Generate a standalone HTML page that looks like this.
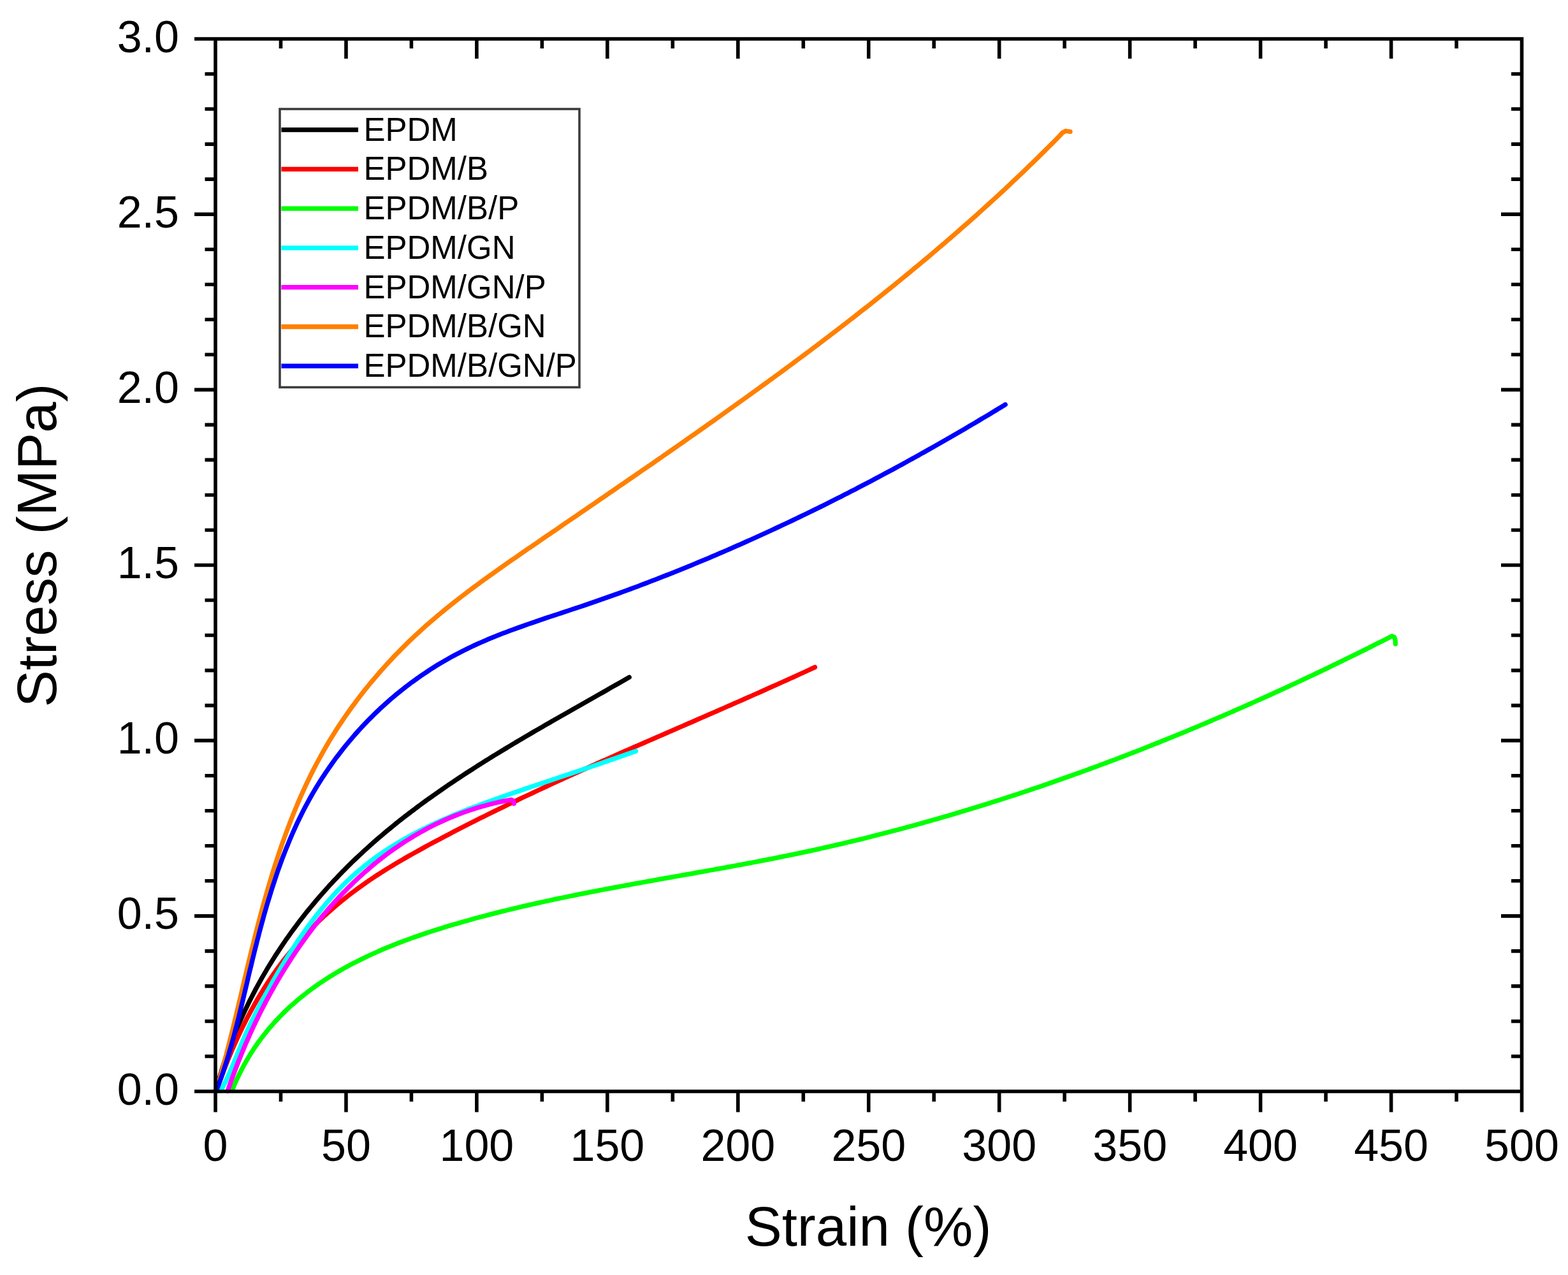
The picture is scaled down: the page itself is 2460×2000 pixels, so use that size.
<!DOCTYPE html>
<html><head><meta charset="utf-8"><title>Stress-Strain</title>
<style>html,body{margin:0;padding:0;background:#fff;}svg{display:block;}</style>
</head><body>
<svg width="2460" height="2000" viewBox="0 0 2460 2000">
<rect x="0" y="0" width="2460" height="2000" fill="#fff"/>
<g fill="none" stroke-width="7.3" stroke-linecap="round" stroke-linejoin="round">
<path d="M338.6,1711.1 L340.2,1705.1 L341.8,1699.1 L343.5,1693.1 L345.3,1687.2 L347.1,1681.3 L348.9,1675.4 L350.8,1669.5 L352.7,1663.6 L354.7,1657.8 L356.8,1652.0 L358.9,1646.2 L361.0,1640.5 L363.2,1634.8 L365.4,1629.1 L367.6,1623.4 L370.0,1617.7 L372.3,1612.1 L374.7,1606.5 L377.2,1600.9 L379.6,1595.4 L382.2,1589.8 L384.7,1584.3 L387.4,1578.9 L390.0,1573.4 L392.7,1568.0 L395.5,1562.6 L398.3,1557.2 L401.1,1551.8 L404.0,1546.5 L406.9,1541.2 L409.8,1535.9 L412.8,1530.7 L415.9,1525.5 L418.9,1520.3 L422.0,1515.1 L425.2,1510.0 L428.4,1504.9 L431.6,1499.8 L434.9,1494.7 L438.2,1489.7 L441.5,1484.7 L444.9,1479.7 L448.3,1474.7 L451.8,1469.8 L455.3,1464.9 L458.8,1460.0 L462.4,1455.2 L466.0,1450.3 L469.6,1445.5 L473.3,1440.8 L477.0,1436.0 L480.7,1431.3 L484.5,1426.6 L488.3,1422.0 L492.2,1417.3 L496.1,1412.7 L500.0,1408.2 L503.9,1403.6 L507.9,1399.1 L511.9,1394.6 L515.9,1390.1 L520.0,1385.7 L524.1,1381.3 L528.3,1376.9 L532.4,1372.6 L536.6,1368.2 L540.9,1363.9 L545.1,1359.7 L549.4,1355.4 L553.7,1351.2 L558.1,1347.0 L562.5,1342.9 L566.9,1338.8 L571.3,1334.7 L575.8,1330.6 L580.2,1326.6 L584.8,1322.6 L589.3,1318.6 L593.9,1314.6 L598.5,1310.7 L603.1,1306.8 L607.7,1302.9 L612.4,1299.1 L617.1,1295.2 L621.8,1291.4 L626.5,1287.7 L631.3,1283.9 L636.1,1280.2 L640.9,1276.5 L645.7,1272.8 L650.6,1269.2 L655.4,1265.5 L660.3,1261.9 L665.2,1258.3 L670.1,1254.7 L675.1,1251.2 L680.0,1247.7 L685.0,1244.2 L690.0,1240.7 L695.0,1237.2 L700.0,1233.8 L705.1,1230.3 L710.1,1226.9 L715.2,1223.5 L720.3,1220.1 L725.4,1216.8 L730.5,1213.4 L735.6,1210.1 L740.8,1206.8 L745.9,1203.5 L751.1,1200.2 L756.2,1197.0 L761.4,1193.7 L766.6,1190.5 L771.8,1187.2 L777.0,1184.0 L782.2,1180.8 L787.5,1177.6 L792.7,1174.5 L797.9,1171.3 L803.2,1168.2 L808.4,1165.0 L813.7,1161.9 L818.9,1158.8 L824.2,1155.7 L829.5,1152.6 L834.7,1149.5 L840.0,1146.4 L845.3,1143.4 L850.6,1140.3 L855.9,1137.2 L861.2,1134.2 L866.4,1131.2 L871.7,1128.1 L877.0,1125.1 L882.3,1122.1 L887.6,1119.1 L892.9,1116.1 L898.1,1113.1 L903.4,1110.1 L908.7,1107.1 L914.0,1104.1 L919.2,1101.1 L924.5,1098.1 L929.8,1095.1 L935.0,1092.1 L940.3,1089.1 L945.5,1086.2 L950.8,1083.2 L956.0,1080.2 L961.2,1077.2 L966.4,1074.3 L971.6,1071.3 L976.8,1068.3 L982.0,1065.3 L987.2,1062.4" stroke="#000000"/>
<path d="M339.5,1711.0 L341.5,1705.3 L343.5,1699.7 L345.6,1694.0 L347.6,1688.3 L349.8,1682.7 L351.9,1677.0 L354.1,1671.4 L356.4,1665.7 L358.6,1660.1 L361.0,1654.5 L363.3,1648.9 L365.7,1643.3 L368.2,1637.8 L370.7,1632.2 L373.2,1626.7 L375.8,1621.2 L378.4,1615.7 L381.1,1610.2 L383.8,1604.8 L386.5,1599.3 L389.3,1594.0 L392.2,1588.6 L395.1,1583.2 L398.0,1577.9 L401.0,1572.6 L404.0,1567.4 L407.1,1562.2 L410.2,1557.0 L413.4,1551.8 L416.7,1546.7 L419.9,1541.6 L423.3,1536.6 L426.6,1531.6 L430.1,1526.6 L433.6,1521.7 L437.1,1516.8 L440.7,1511.9 L444.3,1507.1 L448.0,1502.4 L451.8,1497.7 L455.6,1493.0 L459.4,1488.4 L463.3,1483.8 L467.2,1479.3 L471.2,1474.8 L475.3,1470.3 L479.4,1465.9 L483.5,1461.6 L487.7,1457.3 L491.9,1453.0 L496.2,1448.8 L500.5,1444.6 L504.8,1440.5 L509.2,1436.4 L513.7,1432.4 L518.2,1428.4 L522.7,1424.4 L527.3,1420.5 L531.9,1416.7 L536.5,1412.9 L541.2,1409.1 L545.9,1405.4 L550.7,1401.7 L555.5,1398.1 L560.3,1394.5 L565.2,1391.0 L570.1,1387.5 L575.0,1384.0 L580.0,1380.6 L585.0,1377.2 L590.0,1373.9 L595.1,1370.6 L600.2,1367.4 L605.3,1364.2 L610.4,1361.0 L615.6,1357.8 L620.8,1354.7 L626.0,1351.6 L631.2,1348.6 L636.5,1345.5 L641.7,1342.5 L647.0,1339.6 L652.3,1336.6 L657.6,1333.7 L662.9,1330.7 L668.2,1327.8 L673.6,1324.9 L678.9,1322.1 L684.2,1319.2 L689.6,1316.4 L695.0,1313.5 L700.3,1310.7 L705.7,1307.9 L711.1,1305.1 L716.5,1302.3 L721.8,1299.5 L727.2,1296.8 L732.6,1294.0 L738.0,1291.3 L743.5,1288.5 L748.9,1285.8 L754.3,1283.1 L759.7,1280.4 L765.1,1277.7 L770.6,1275.0 L776.0,1272.4 L781.4,1269.7 L786.9,1267.1 L792.3,1264.4 L797.8,1261.8 L803.2,1259.2 L808.7,1256.6 L814.2,1253.9 L819.6,1251.3 L825.1,1248.8 L830.6,1246.2 L836.1,1243.6 L841.5,1241.0 L847.0,1238.5 L852.5,1235.9 L858.0,1233.4 L863.5,1230.8 L869.0,1228.3 L874.5,1225.8 L880.0,1223.2 L885.5,1220.7 L891.0,1218.2 L896.5,1215.7 L902.1,1213.2 L907.6,1210.7 L913.1,1208.2 L918.6,1205.8 L924.1,1203.3 L929.7,1200.8 L935.2,1198.3 L940.7,1195.9 L946.3,1193.4 L951.8,1191.0 L957.3,1188.5 L962.9,1186.1 L968.4,1183.6 L973.9,1181.2 L979.5,1178.7 L985.0,1176.3 L990.6,1173.9 L996.1,1171.4 L1001.7,1169.0 L1007.2,1166.6 L1012.8,1164.2 L1018.3,1161.7 L1023.9,1159.3 L1029.4,1156.9 L1035.0,1154.5 L1040.5,1152.1 L1046.1,1149.7 L1051.6,1147.2 L1057.2,1144.8 L1062.7,1142.4 L1068.3,1140.0 L1073.8,1137.6 L1079.4,1135.2 L1084.9,1132.8 L1090.5,1130.3 L1096.0,1127.9 L1101.6,1125.5 L1107.1,1123.1 L1112.7,1120.7 L1118.2,1118.2 L1123.8,1115.8 L1129.3,1113.4 L1134.9,1111.0 L1140.4,1108.5 L1146.0,1106.1 L1151.5,1103.7 L1157.0,1101.2 L1162.6,1098.8 L1168.1,1096.4 L1173.7,1093.9 L1179.2,1091.5 L1184.7,1089.0 L1190.3,1086.6 L1195.8,1084.1 L1201.3,1081.6 L1206.8,1079.2 L1212.4,1076.7 L1217.9,1074.2 L1223.4,1071.7 L1228.9,1069.2 L1234.4,1066.8 L1239.9,1064.3 L1245.5,1061.8 L1251.0,1059.2 L1256.5,1056.7 L1262.0,1054.2 L1267.5,1051.7 L1273.0,1049.1 L1278.5,1046.6" stroke="#ff0000"/>
<path d="M363.9,1711.1 L366.3,1705.1 L368.9,1699.1 L371.5,1693.3 L374.2,1687.5 L377.0,1681.9 L379.9,1676.3 L382.8,1670.8 L385.8,1665.4 L388.9,1660.1 L392.1,1654.9 L395.3,1649.7 L398.7,1644.6 L402.1,1639.6 L405.5,1634.7 L409.1,1629.9 L412.7,1625.1 L416.4,1620.5 L420.1,1615.9 L423.9,1611.3 L427.8,1606.9 L431.7,1602.5 L435.7,1598.2 L439.8,1594.0 L443.9,1589.8 L448.1,1585.7 L452.3,1581.7 L456.6,1577.7 L461.0,1573.9 L465.4,1570.0 L469.9,1566.3 L474.4,1562.6 L479.0,1559.0 L483.6,1555.4 L488.3,1551.9 L493.0,1548.5 L497.8,1545.1 L502.6,1541.8 L507.5,1538.5 L512.4,1535.3 L517.3,1532.2 L522.3,1529.1 L527.4,1526.0 L532.5,1523.0 L537.6,1520.1 L542.7,1517.2 L547.9,1514.4 L553.2,1511.6 L558.5,1508.9 L563.8,1506.2 L569.1,1503.6 L574.5,1501.0 L579.9,1498.5 L585.3,1496.0 L590.8,1493.5 L596.3,1491.1 L601.8,1488.7 L607.3,1486.4 L612.9,1484.1 L618.5,1481.9 L624.1,1479.7 L629.8,1477.5 L635.4,1475.4 L641.1,1473.3 L646.8,1471.2 L652.5,1469.2 L658.3,1467.2 L664.0,1465.2 L669.8,1463.3 L675.6,1461.4 L681.4,1459.5 L687.2,1457.7 L693.0,1455.9 L698.8,1454.1 L704.6,1452.3 L710.5,1450.6 L716.3,1448.9 L722.2,1447.2 L728.0,1445.5 L733.9,1443.9 L739.7,1442.2 L745.6,1440.6 L751.5,1439.0 L757.4,1437.5 L763.2,1435.9 L769.1,1434.4 L775.0,1432.9 L780.9,1431.4 L786.7,1429.9 L792.6,1428.5 L798.5,1427.0 L804.4,1425.6 L810.3,1424.2 L816.2,1422.8 L822.1,1421.4 L828.0,1420.1 L833.9,1418.7 L839.8,1417.4 L845.7,1416.1 L851.6,1414.8 L857.5,1413.5 L863.4,1412.2 L869.3,1410.9 L875.2,1409.7 L881.1,1408.5 L887.0,1407.2 L892.9,1406.0 L898.8,1404.8 L904.8,1403.6 L910.7,1402.4 L916.6,1401.3 L922.5,1400.1 L928.4,1398.9 L934.3,1397.8 L940.3,1396.6 L946.2,1395.5 L952.1,1394.4 L958.0,1393.3 L964.0,1392.2 L969.9,1391.1 L975.8,1390.0 L981.7,1388.9 L987.7,1387.8 L993.6,1386.7 L999.5,1385.6 L1005.4,1384.6 L1011.4,1383.5 L1017.3,1382.4 L1023.2,1381.4 L1029.1,1380.3 L1035.1,1379.2 L1041.0,1378.2 L1046.9,1377.1 L1052.8,1376.1 L1058.8,1375.0 L1064.7,1374.0 L1070.6,1372.9 L1076.5,1371.9 L1082.5,1370.8 L1088.4,1369.8 L1094.3,1368.7 L1100.2,1367.7 L1106.2,1366.6 L1112.1,1365.5 L1118.0,1364.5 L1123.9,1363.4 L1129.8,1362.3 L1135.7,1361.3 L1141.7,1360.2 L1147.6,1359.1 L1153.5,1358.0 L1159.4,1356.9 L1165.3,1355.8 L1171.2,1354.7 L1177.1,1353.6 L1183.0,1352.5 L1188.9,1351.4 L1194.8,1350.2 L1200.7,1349.1 L1206.6,1347.9 L1212.5,1346.8 L1218.4,1345.6 L1224.3,1344.4 L1230.2,1343.2 L1236.1,1342.0 L1242.0,1340.8 L1247.9,1339.6 L1253.7,1338.4 L1259.6,1337.1 L1265.5,1335.9 L1271.4,1334.6 L1277.2,1333.4 L1283.1,1332.1 L1289.0,1330.8 L1294.8,1329.4 L1300.7,1328.1 L1306.6,1326.8 L1312.4,1325.4 L1318.3,1324.1 L1324.1,1322.7 L1330.0,1321.3 L1335.8,1319.9 L1341.7,1318.5 L1347.5,1317.1 L1353.4,1315.7 L1359.2,1314.2 L1365.0,1312.8 L1370.9,1311.3 L1376.7,1309.8 L1382.5,1308.3 L1388.4,1306.8 L1394.2,1305.3 L1400.0,1303.8 L1405.8,1302.3 L1411.6,1300.7 L1417.4,1299.2 L1423.3,1297.6 L1429.1,1296.0 L1434.9,1294.4 L1440.7,1292.8 L1446.5,1291.2 L1452.3,1289.6 L1458.1,1288.0 L1463.9,1286.3 L1469.6,1284.7 L1475.4,1283.0 L1481.2,1281.3 L1487.0,1279.7 L1492.8,1278.0 L1498.5,1276.3 L1504.3,1274.5 L1510.1,1272.8 L1515.8,1271.1 L1521.6,1269.3 L1527.4,1267.6 L1533.1,1265.8 L1538.9,1264.0 L1544.6,1262.2 L1550.4,1260.4 L1556.1,1258.6 L1561.9,1256.8 L1567.6,1255.0 L1573.3,1253.1 L1579.1,1251.3 L1584.8,1249.4 L1590.5,1247.5 L1596.3,1245.7 L1602.0,1243.8 L1607.7,1241.9 L1613.4,1240.0 L1619.1,1238.0 L1624.8,1236.1 L1630.6,1234.2 L1636.3,1232.2 L1642.0,1230.3 L1647.7,1228.3 L1653.4,1226.3 L1659.0,1224.3 L1664.7,1222.3 L1670.4,1220.3 L1676.1,1218.3 L1681.8,1216.3 L1687.5,1214.2 L1693.1,1212.2 L1698.8,1210.1 L1704.5,1208.1 L1710.1,1206.0 L1715.8,1203.9 L1721.4,1201.8 L1727.1,1199.7 L1732.7,1197.6 L1738.4,1195.5 L1744.0,1193.4 L1749.7,1191.3 L1755.3,1189.1 L1761.0,1187.0 L1766.6,1184.8 L1772.2,1182.6 L1777.8,1180.5 L1783.5,1178.3 L1789.1,1176.1 L1794.7,1173.9 L1800.3,1171.7 L1805.9,1169.4 L1811.5,1167.2 L1817.1,1165.0 L1822.7,1162.7 L1828.3,1160.5 L1833.9,1158.2 L1839.5,1155.9 L1845.1,1153.6 L1850.6,1151.4 L1856.2,1149.1 L1861.8,1146.8 L1867.4,1144.4 L1872.9,1142.1 L1878.5,1139.8 L1884.0,1137.5 L1889.6,1135.1 L1895.1,1132.8 L1900.7,1130.4 L1906.2,1128.0 L1911.8,1125.7 L1917.3,1123.3 L1922.9,1120.9 L1928.4,1118.5 L1933.9,1116.1 L1939.4,1113.7 L1944.9,1111.2 L1950.5,1108.8 L1956.0,1106.4 L1961.5,1103.9 L1967.0,1101.5 L1972.5,1099.0 L1978.0,1096.6 L1983.5,1094.1 L1989.0,1091.6 L1994.5,1089.1 L1999.9,1086.6 L2005.4,1084.1 L2010.9,1081.6 L2016.4,1079.1 L2021.8,1076.6 L2027.3,1074.0 L2032.7,1071.5 L2038.2,1069.0 L2043.6,1066.4 L2049.1,1063.9 L2054.5,1061.3 L2060.0,1058.7 L2065.4,1056.1 L2070.8,1053.6 L2076.3,1051.0 L2081.7,1048.4 L2087.1,1045.8 L2092.5,1043.1 L2097.9,1040.5 L2103.4,1037.9 L2108.8,1035.3 L2114.2,1032.6 L2119.5,1030.0 L2124.9,1027.4 L2130.3,1024.7 L2135.7,1022.0 L2141.1,1019.4 L2146.5,1016.7 L2151.8,1014.0 L2157.2,1011.3 L2162.6,1008.6 L2167.9,1005.9 L2173.3,1003.2 L2178.6,1000.5 L2184.0,997.8 L2187.5,999.5 L2189.0,1004.0 L2189.3,1010.0" stroke="#00ff00"/>
<path d="M346.1,1711.1 L348.9,1706.1 L351.6,1701.0 L354.2,1695.8 L356.7,1690.5 L359.2,1685.1 L361.5,1679.7 L363.9,1674.2 L366.2,1668.7 L368.4,1663.2 L370.7,1657.6 L372.9,1652.0 L375.2,1646.4 L377.5,1640.9 L379.8,1635.3 L382.1,1629.8 L384.5,1624.3 L387.0,1618.9 L389.5,1613.5 L392.0,1608.1 L394.6,1602.7 L397.2,1597.3 L399.8,1592.0 L402.5,1586.7 L405.3,1581.4 L408.0,1576.1 L410.8,1570.8 L413.7,1565.5 L416.5,1560.2 L419.4,1554.9 L422.4,1549.7 L425.3,1544.4 L428.3,1539.1 L431.3,1533.9 L434.4,1528.6 L437.5,1523.3 L440.6,1518.1 L443.8,1512.8 L447.0,1507.6 L450.2,1502.4 L453.5,1497.2 L456.8,1492.0 L460.1,1486.8 L463.5,1481.7 L466.9,1476.6 L470.4,1471.5 L473.9,1466.4 L477.4,1461.4 L481.0,1456.4 L484.6,1451.4 L488.3,1446.5 L492.0,1441.6 L495.7,1436.8 L499.5,1432.0 L503.4,1427.2 L507.2,1422.5 L511.2,1417.8 L515.1,1413.2 L519.2,1408.6 L523.2,1404.1 L527.3,1399.7 L531.5,1395.3 L535.7,1390.9 L540.0,1386.7 L544.3,1382.5 L548.7,1378.3 L553.1,1374.3 L557.6,1370.2 L562.1,1366.3 L566.7,1362.5 L571.3,1358.7 L576.0,1355.0 L580.7,1351.3 L585.5,1347.7 L590.3,1344.2 L595.2,1340.8 L600.1,1337.4 L605.1,1334.1 L610.1,1330.8 L615.1,1327.6 L620.2,1324.5 L625.3,1321.4 L630.5,1318.4 L635.7,1315.4 L640.9,1312.5 L646.2,1309.6 L651.5,1306.8 L656.8,1304.1 L662.2,1301.3 L667.6,1298.7 L673.0,1296.0 L678.5,1293.4 L684.0,1290.9 L689.5,1288.4 L695.0,1285.9 L700.5,1283.5 L706.1,1281.1 L711.7,1278.7 L717.3,1276.4 L722.9,1274.1 L728.6,1271.9 L734.2,1269.6 L739.9,1267.4 L745.6,1265.3 L751.3,1263.1 L757.0,1261.0 L762.7,1258.9 L768.4,1256.8 L774.2,1254.7 L779.9,1252.7 L785.7,1250.6 L791.4,1248.6 L797.2,1246.6 L802.9,1244.6 L808.7,1242.7 L814.4,1240.7 L820.2,1238.7 L825.9,1236.8 L831.7,1234.8 L837.4,1232.9 L843.1,1231.0 L848.9,1229.0 L854.6,1227.1 L860.3,1225.2 L866.1,1223.3 L871.8,1221.4 L877.5,1219.4 L883.2,1217.5 L888.9,1215.6 L894.7,1213.7 L900.4,1211.8 L906.1,1209.9 L911.8,1207.9 L917.5,1206.0 L923.2,1204.1 L929.0,1202.1 L934.7,1200.2 L940.4,1198.2 L946.1,1196.3 L951.8,1194.3 L957.5,1192.3 L963.3,1190.3 L969.0,1188.3 L974.7,1186.3 L980.4,1184.3 L986.1,1182.3 L991.9,1180.2 L997.6,1178.2" stroke="#00ffff"/>
<path d="M357.1,1711.5 L359.0,1705.9 L361.0,1700.2 L363.0,1694.6 L365.0,1689.0 L367.1,1683.3 L369.2,1677.7 L371.4,1672.1 L373.6,1666.4 L375.8,1660.8 L378.1,1655.2 L380.4,1649.6 L382.7,1644.0 L385.1,1638.4 L387.5,1632.8 L390.0,1627.2 L392.5,1621.6 L395.0,1616.1 L397.6,1610.5 L400.2,1605.0 L402.9,1599.4 L405.6,1593.9 L408.3,1588.4 L411.1,1582.9 L413.9,1577.5 L416.7,1572.0 L419.6,1566.6 L422.6,1561.2 L425.5,1555.8 L428.5,1550.4 L431.6,1545.0 L434.7,1539.7 L437.8,1534.4 L440.9,1529.1 L444.1,1523.8 L447.4,1518.6 L450.7,1513.4 L454.0,1508.2 L457.3,1503.0 L460.7,1497.9 L464.2,1492.8 L467.6,1487.7 L471.1,1482.6 L474.7,1477.6 L478.3,1472.6 L481.9,1467.7 L485.6,1462.8 L489.3,1457.9 L493.0,1453.0 L496.8,1448.2 L500.6,1443.4 L504.5,1438.7 L508.4,1434.0 L512.4,1429.3 L516.3,1424.7 L520.4,1420.1 L524.4,1415.6 L528.5,1411.1 L532.7,1406.6 L536.8,1402.2 L541.1,1397.9 L545.3,1393.5 L549.6,1389.3 L554.0,1385.0 L558.3,1380.9 L562.8,1376.7 L567.2,1372.7 L571.7,1368.6 L576.3,1364.7 L580.8,1360.7 L585.4,1356.9 L590.1,1353.0 L594.8,1349.3 L599.5,1345.6 L604.3,1341.9 L609.1,1338.3 L614.0,1334.8 L618.9,1331.3 L623.8,1327.9 L628.8,1324.5 L633.8,1321.2 L638.9,1318.0 L644.0,1314.8 L649.1,1311.7 L654.3,1308.6 L659.5,1305.6 L664.8,1302.7 L670.1,1299.8 L675.4,1297.1 L680.8,1294.3 L686.2,1291.7 L691.7,1289.1 L697.2,1286.6 L702.7,1284.2 L708.3,1281.8 L713.9,1279.5 L719.6,1277.3 L725.3,1275.1 L731.0,1273.1 L736.8,1271.1 L742.6,1269.2 L748.5,1267.3 L754.4,1265.6 L760.3,1263.9 L766.3,1262.3 L772.3,1260.7 L778.4,1259.3 L784.5,1257.9 L790.7,1256.7 L796.9,1255.5 L802.0,1254.5 L805.0,1256.0 L806.3,1260.5" stroke="#ff00ff"/>
<path d="M339.1,1711.0 L340.8,1705.4 L342.4,1699.8 L344.1,1694.2 L345.7,1688.6 L347.3,1682.9 L348.8,1677.2 L350.4,1671.6 L351.9,1665.9 L353.4,1660.2 L355.0,1654.4 L356.4,1648.7 L357.9,1643.0 L359.4,1637.2 L360.8,1631.4 L362.3,1625.7 L363.7,1619.9 L365.2,1614.1 L366.6,1608.3 L368.0,1602.4 L369.4,1596.6 L370.8,1590.8 L372.2,1584.9 L373.6,1579.1 L375.0,1573.2 L376.4,1567.4 L377.8,1561.5 L379.2,1555.6 L380.5,1549.7 L381.9,1543.8 L383.3,1537.9 L384.7,1532.1 L386.1,1526.2 L387.5,1520.2 L388.9,1514.3 L390.3,1508.4 L391.8,1502.5 L393.2,1496.6 L394.6,1490.7 L396.1,1484.8 L397.6,1478.9 L399.0,1473.0 L400.5,1467.1 L402.0,1461.1 L403.5,1455.2 L405.1,1449.3 L406.6,1443.4 L408.2,1437.5 L409.7,1431.6 L411.3,1425.7 L412.9,1419.9 L414.6,1414.0 L416.2,1408.1 L417.9,1402.2 L419.6,1396.4 L421.3,1390.5 L423.0,1384.7 L424.8,1378.8 L426.5,1373.0 L428.3,1367.2 L430.2,1361.4 L432.0,1355.6 L433.9,1349.8 L435.8,1344.0 L437.7,1338.2 L439.6,1332.5 L441.6,1326.7 L443.6,1321.0 L445.7,1315.3 L447.7,1309.6 L449.8,1303.9 L451.9,1298.2 L454.1,1292.6 L456.2,1286.9 L458.5,1281.3 L460.7,1275.7 L463.0,1270.1 L465.3,1264.6 L467.6,1259.0 L470.0,1253.5 L472.4,1248.0 L474.9,1242.5 L477.4,1237.0 L479.9,1231.6 L482.5,1226.2 L485.1,1220.8 L487.7,1215.4 L490.4,1210.0 L493.1,1204.7 L495.9,1199.4 L498.7,1194.1 L501.5,1188.9 L504.4,1183.7 L507.3,1178.5 L510.3,1173.3 L513.3,1168.1 L516.3,1163.0 L519.4,1157.9 L522.6,1152.9 L525.7,1147.8 L528.9,1142.8 L532.2,1137.8 L535.5,1132.9 L538.8,1127.9 L542.2,1123.0 L545.6,1118.1 L549.0,1113.3 L552.5,1108.5 L556.1,1103.7 L559.6,1098.9 L563.2,1094.2 L566.8,1089.5 L570.5,1084.8 L574.2,1080.1 L578.0,1075.5 L581.7,1070.9 L585.6,1066.3 L589.4,1061.8 L593.3,1057.3 L597.2,1052.8 L601.2,1048.4 L605.2,1043.9 L609.2,1039.5 L613.2,1035.2 L617.3,1030.8 L621.4,1026.5 L625.6,1022.3 L629.8,1018.0 L634.0,1013.8 L638.2,1009.6 L642.5,1005.4 L646.8,1001.3 L651.2,997.2 L655.6,993.2 L660.0,989.1 L664.4,985.1 L668.9,981.1 L673.3,977.2 L677.9,973.3 L682.4,969.4 L687.0,965.5 L691.6,961.7 L696.2,957.9 L700.8,954.1 L705.5,950.3 L710.2,946.6 L714.9,942.8 L719.7,939.2 L724.4,935.5 L729.2,931.8 L734.0,928.2 L738.8,924.6 L743.6,921.0 L748.5,917.4 L753.3,913.8 L758.2,910.3 L763.1,906.7 L768.0,903.2 L772.9,899.7 L777.8,896.2 L782.7,892.7 L787.6,889.2 L792.6,885.7 L797.5,882.3 L802.5,878.8 L807.5,875.4 L812.5,871.9 L817.4,868.5 L822.4,865.1 L827.4,861.6 L832.4,858.2 L837.4,854.8 L842.3,851.4 L847.3,848.0 L852.3,844.5 L857.3,841.1 L862.3,837.7 L867.3,834.3 L872.3,830.9 L877.3,827.5 L882.2,824.0 L887.2,820.6 L892.2,817.2 L897.2,813.8 L902.2,810.4 L907.2,807.0 L912.1,803.6 L917.1,800.2 L922.1,796.7 L927.1,793.3 L932.1,789.9 L937.1,786.5 L942.0,783.1 L947.0,779.7 L952.0,776.3 L957.0,772.8 L961.9,769.4 L966.9,766.0 L971.9,762.6 L976.8,759.2 L981.8,755.8 L986.8,752.3 L991.7,748.9 L996.7,745.5 L1001.7,742.1 L1006.6,738.6 L1011.6,735.2 L1016.6,731.8 L1021.5,728.4 L1026.5,724.9 L1031.4,721.5 L1036.4,718.1 L1041.3,714.6 L1046.3,711.2 L1051.2,707.8 L1056.2,704.3 L1061.1,700.9 L1066.0,697.4 L1071.0,694.0 L1075.9,690.5 L1080.8,687.1 L1085.8,683.6 L1090.7,680.2 L1095.6,676.7 L1100.5,673.2 L1105.5,669.8 L1110.4,666.3 L1115.3,662.8 L1120.2,659.4 L1125.1,655.9 L1130.0,652.4 L1134.9,648.9 L1139.8,645.4 L1144.7,641.9 L1149.6,638.4 L1154.5,634.9 L1159.4,631.4 L1164.3,627.9 L1169.2,624.4 L1174.1,620.9 L1178.9,617.4 L1183.8,613.9 L1188.7,610.4 L1193.5,606.8 L1198.4,603.3 L1203.3,599.8 L1208.1,596.2 L1213.0,592.7 L1217.8,589.1 L1222.7,585.6 L1227.5,582.0 L1232.3,578.5 L1237.2,574.9 L1242.0,571.3 L1246.8,567.8 L1251.6,564.2 L1256.5,560.6 L1261.3,557.0 L1266.1,553.4 L1270.9,549.8 L1275.7,546.2 L1280.5,542.6 L1285.3,539.0 L1290.0,535.3 L1294.8,531.7 L1299.6,528.1 L1304.4,524.4 L1309.1,520.8 L1313.9,517.1 L1318.7,513.5 L1323.4,509.8 L1328.2,506.2 L1332.9,502.5 L1337.7,498.8 L1342.4,495.1 L1347.1,491.4 L1351.8,487.7 L1356.6,484.0 L1361.3,480.3 L1366.0,476.6 L1370.7,472.9 L1375.4,469.1 L1380.1,465.4 L1384.8,461.6 L1389.4,457.9 L1394.1,454.1 L1398.8,450.4 L1403.5,446.6 L1408.1,442.8 L1412.8,439.0 L1417.4,435.2 L1422.1,431.4 L1426.7,427.6 L1431.3,423.8 L1435.9,419.9 L1440.6,416.1 L1445.2,412.3 L1449.8,408.4 L1454.4,404.6 L1459.0,400.7 L1463.6,396.8 L1468.1,392.9 L1472.7,389.0 L1477.3,385.1 L1481.9,381.2 L1486.4,377.3 L1491.0,373.4 L1495.5,369.5 L1500.0,365.5 L1504.6,361.6 L1509.1,357.6 L1513.6,353.6 L1518.1,349.7 L1522.6,345.7 L1527.1,341.7 L1531.6,337.7 L1536.1,333.6 L1540.5,329.6 L1545.0,325.6 L1549.5,321.5 L1553.9,317.5 L1558.4,313.4 L1562.8,309.4 L1567.2,305.3 L1571.7,301.2 L1576.1,297.1 L1580.5,293.0 L1584.9,288.8 L1589.3,284.7 L1593.6,280.6 L1598.0,276.4 L1602.4,272.3 L1606.8,268.1 L1611.1,263.9 L1615.4,259.7 L1619.8,255.5 L1624.1,251.3 L1628.4,247.1 L1632.7,242.8 L1637.0,238.6 L1641.3,234.3 L1645.6,230.0 L1649.9,225.8 L1654.2,221.5 L1658.4,217.2 L1662.7,212.8 L1667.0,208.0 L1672.0,205.5 L1679.0,206.5" stroke="#ff8000"/>
<path d="M339.1,1711.5 L341.2,1706.0 L343.3,1700.4 L345.4,1694.8 L347.4,1689.2 L349.3,1683.6 L351.2,1678.0 L353.0,1672.3 L354.9,1666.7 L356.6,1661.0 L358.4,1655.3 L360.0,1649.6 L361.7,1643.9 L363.3,1638.2 L364.9,1632.5 L366.5,1626.7 L368.0,1621.0 L369.5,1615.2 L371.0,1609.4 L372.5,1603.6 L374.0,1597.9 L375.4,1592.1 L376.8,1586.2 L378.2,1580.4 L379.6,1574.6 L381.0,1568.8 L382.4,1562.9 L383.8,1557.1 L385.2,1551.2 L386.6,1545.3 L388.0,1539.5 L389.3,1533.6 L390.7,1527.7 L392.1,1521.8 L393.6,1516.0 L395.0,1510.1 L396.4,1504.2 L397.9,1498.3 L399.3,1492.4 L400.8,1486.5 L402.3,1480.6 L403.8,1474.7 L405.3,1468.8 L406.8,1462.9 L408.4,1457.0 L410.0,1451.1 L411.6,1445.3 L413.2,1439.4 L414.8,1433.5 L416.5,1427.7 L418.2,1421.8 L419.9,1416.0 L421.7,1410.1 L423.5,1404.3 L425.3,1398.5 L427.1,1392.7 L429.0,1386.9 L430.9,1381.1 L432.8,1375.4 L434.7,1369.6 L436.7,1363.9 L438.8,1358.2 L440.8,1352.5 L442.9,1346.8 L445.1,1341.1 L447.3,1335.5 L449.5,1329.9 L451.8,1324.3 L454.1,1318.7 L456.4,1313.1 L458.8,1307.6 L461.3,1302.1 L463.8,1296.6 L466.3,1291.1 L468.9,1285.7 L471.5,1280.3 L474.2,1274.9 L476.9,1269.6 L479.7,1264.2 L482.6,1258.9 L485.4,1253.7 L488.4,1248.4 L491.4,1243.2 L494.4,1238.1 L497.6,1232.9 L500.7,1227.8 L503.9,1222.7 L507.2,1217.7 L510.5,1212.7 L513.9,1207.7 L517.3,1202.8 L520.8,1197.9 L524.3,1193.0 L527.8,1188.2 L531.5,1183.4 L535.1,1178.7 L538.8,1174.0 L542.6,1169.3 L546.4,1164.7 L550.3,1160.1 L554.2,1155.5 L558.1,1151.0 L562.1,1146.5 L566.2,1142.1 L570.2,1137.7 L574.4,1133.4 L578.5,1129.1 L582.8,1124.8 L587.0,1120.6 L591.3,1116.5 L595.7,1112.3 L600.1,1108.3 L604.5,1104.3 L609.0,1100.3 L613.5,1096.3 L618.0,1092.5 L622.6,1088.6 L627.3,1084.8 L632.0,1081.1 L636.7,1077.4 L641.4,1073.8 L646.2,1070.2 L651.1,1066.7 L655.9,1063.2 L660.8,1059.8 L665.8,1056.4 L670.8,1053.1 L675.8,1049.8 L680.8,1046.6 L685.9,1043.4 L691.0,1040.3 L696.2,1037.3 L701.4,1034.3 L706.6,1031.4 L711.9,1028.5 L717.2,1025.7 L722.5,1022.9 L727.8,1020.2 L733.2,1017.6 L738.6,1015.0 L744.1,1012.4 L749.6,1009.9 L755.1,1007.5 L760.6,1005.1 L766.1,1002.7 L771.7,1000.4 L777.3,998.2 L782.9,995.9 L788.5,993.7 L794.2,991.6 L799.8,989.4 L805.5,987.3 L811.2,985.2 L816.9,983.2 L822.6,981.2 L828.4,979.1 L834.1,977.2 L839.9,975.2 L845.6,973.2 L851.4,971.3 L857.1,969.3 L862.9,967.4 L868.7,965.5 L874.5,963.6 L880.2,961.7 L886.0,959.8 L891.8,957.9 L897.6,955.9 L903.3,954.0 L909.1,952.1 L914.8,950.2 L920.6,948.2 L926.3,946.3 L932.1,944.3 L937.8,942.3 L943.5,940.3 L949.2,938.3 L954.9,936.3 L960.6,934.3 L966.3,932.2 L972.0,930.2 L977.6,928.1 L983.3,926.1 L989.0,924.0 L994.6,921.9 L1000.3,919.8 L1005.9,917.7 L1011.6,915.5 L1017.2,913.4 L1022.8,911.2 L1028.4,909.1 L1034.0,906.9 L1039.6,904.7 L1045.2,902.5 L1050.8,900.3 L1056.4,898.1 L1062.0,895.9 L1067.6,893.6 L1073.1,891.4 L1078.7,889.1 L1084.3,886.8 L1089.8,884.5 L1095.4,882.2 L1100.9,879.9 L1106.5,877.6 L1112.0,875.3 L1117.5,872.9 L1123.1,870.6 L1128.6,868.2 L1134.1,865.8 L1139.6,863.5 L1145.1,861.1 L1150.6,858.7 L1156.2,856.2 L1161.7,853.8 L1167.1,851.4 L1172.6,848.9 L1178.1,846.5 L1183.6,844.0 L1189.1,841.5 L1194.6,839.0 L1200.1,836.5 L1205.5,834.0 L1211.0,831.5 L1216.5,828.9 L1221.9,826.4 L1227.4,823.8 L1232.8,821.3 L1238.3,818.7 L1243.7,816.1 L1249.2,813.5 L1254.6,810.9 L1260.0,808.3 L1265.4,805.7 L1270.9,803.0 L1276.3,800.4 L1281.7,797.7 L1287.1,795.1 L1292.5,792.4 L1297.9,789.7 L1303.3,787.0 L1308.7,784.3 L1314.1,781.6 L1319.5,778.9 L1324.8,776.1 L1330.2,773.4 L1335.6,770.6 L1341.0,767.9 L1346.3,765.1 L1351.7,762.3 L1357.0,759.5 L1362.4,756.7 L1367.7,753.9 L1373.0,751.1 L1378.4,748.3 L1383.7,745.4 L1389.0,742.6 L1394.3,739.7 L1399.6,736.9 L1405.0,734.0 L1410.3,731.1 L1415.6,728.3 L1420.8,725.4 L1426.1,722.4 L1431.4,719.5 L1436.7,716.6 L1442.0,713.7 L1447.2,710.7 L1452.5,707.8 L1457.8,704.8 L1463.0,701.9 L1468.2,698.9 L1473.5,695.9 L1478.7,692.9 L1484.0,689.9 L1489.2,686.9 L1494.4,683.9 L1499.6,680.9 L1504.8,677.9 L1510.0,674.8 L1515.2,671.8 L1520.4,668.7 L1525.6,665.7 L1530.8,662.6 L1536.0,659.5 L1541.1,656.4 L1546.3,653.4 L1551.5,650.3 L1556.6,647.1 L1561.8,644.0 L1566.9,640.9 L1572.0,637.8 L1577.2,634.6" stroke="#0000ff"/>
</g>
<path d="M338.0,61.0 H2387.5 V1712.0 H338.0 Z M338.00,1712.0 v32.5 M440.48,1712.0 v16 M440.48,61.0 v15 M542.95,1712.0 v32.5 M542.95,61.0 v31 M645.42,1712.0 v16 M645.42,61.0 v15 M747.90,1712.0 v32.5 M747.90,61.0 v31 M850.38,1712.0 v16 M850.38,61.0 v15 M952.85,1712.0 v32.5 M952.85,61.0 v31 M1055.33,1712.0 v16 M1055.33,61.0 v15 M1157.80,1712.0 v32.5 M1157.80,61.0 v31 M1260.28,1712.0 v16 M1260.28,61.0 v15 M1362.75,1712.0 v32.5 M1362.75,61.0 v31 M1465.22,1712.0 v16 M1465.22,61.0 v15 M1567.70,1712.0 v32.5 M1567.70,61.0 v31 M1670.17,1712.0 v16 M1670.17,61.0 v15 M1772.65,1712.0 v32.5 M1772.65,61.0 v31 M1875.12,1712.0 v16 M1875.12,61.0 v15 M1977.60,1712.0 v32.5 M1977.60,61.0 v31 M2080.07,1712.0 v16 M2080.07,61.0 v15 M2182.55,1712.0 v32.5 M2182.55,61.0 v31 M2285.03,1712.0 v16 M2285.03,61.0 v15 M2387.50,1712.0 v32.5 M338.0,1712.00 h-33 M338.0,1656.97 h-16.5 M2387.5,1656.97 h-16.5 M338.0,1601.93 h-16.5 M2387.5,1601.93 h-16.5 M338.0,1546.90 h-16.5 M2387.5,1546.90 h-16.5 M338.0,1491.87 h-16.5 M2387.5,1491.87 h-16.5 M338.0,1436.83 h-33 M2387.5,1436.83 h-32.5 M338.0,1381.80 h-16.5 M2387.5,1381.80 h-16.5 M338.0,1326.77 h-16.5 M2387.5,1326.77 h-16.5 M338.0,1271.73 h-16.5 M2387.5,1271.73 h-16.5 M338.0,1216.70 h-16.5 M2387.5,1216.70 h-16.5 M338.0,1161.67 h-33 M2387.5,1161.67 h-32.5 M338.0,1106.63 h-16.5 M2387.5,1106.63 h-16.5 M338.0,1051.60 h-16.5 M2387.5,1051.60 h-16.5 M338.0,996.57 h-16.5 M2387.5,996.57 h-16.5 M338.0,941.53 h-16.5 M2387.5,941.53 h-16.5 M338.0,886.50 h-33 M2387.5,886.50 h-32.5 M338.0,831.47 h-16.5 M2387.5,831.47 h-16.5 M338.0,776.43 h-16.5 M2387.5,776.43 h-16.5 M338.0,721.40 h-16.5 M2387.5,721.40 h-16.5 M338.0,666.37 h-16.5 M2387.5,666.37 h-16.5 M338.0,611.33 h-33 M2387.5,611.33 h-32.5 M338.0,556.30 h-16.5 M2387.5,556.30 h-16.5 M338.0,501.27 h-16.5 M2387.5,501.27 h-16.5 M338.0,446.23 h-16.5 M2387.5,446.23 h-16.5 M338.0,391.20 h-16.5 M2387.5,391.20 h-16.5 M338.0,336.17 h-33 M2387.5,336.17 h-32.5 M338.0,281.13 h-16.5 M2387.5,281.13 h-16.5 M338.0,226.10 h-16.5 M2387.5,226.10 h-16.5 M338.0,171.07 h-16.5 M2387.5,171.07 h-16.5 M338.0,116.03 h-16.5 M2387.5,116.03 h-16.5 M338.0,61.00 h-33" fill="none" stroke="#000" stroke-width="5.6" stroke-linecap="butt" stroke-linejoin="miter"/>
<g font-family="'Liberation Sans', Arial, sans-serif" font-size="70" fill="#000" text-anchor="end">
<text x="281" y="1732.5">0.0</text>
<text x="281" y="1457.3">0.5</text>
<text x="281" y="1182.2">1.0</text>
<text x="281" y="907.0">1.5</text>
<text x="281" y="631.8">2.0</text>
<text x="281" y="356.7">2.5</text>
<text x="281" y="81.5">3.0</text>
</g>
<g font-family="'Liberation Sans', Arial, sans-serif" font-size="70" fill="#000" text-anchor="middle">
<text x="338.0" y="1821">0</text>
<text x="543.0" y="1821">50</text>
<text x="747.9" y="1821">100</text>
<text x="952.9" y="1821">150</text>
<text x="1157.8" y="1821">200</text>
<text x="1362.8" y="1821">250</text>
<text x="1567.7" y="1821">300</text>
<text x="1772.7" y="1821">350</text>
<text x="1977.6" y="1821">400</text>
<text x="2182.6" y="1821">450</text>
<text x="2387.5" y="1821">500</text>
</g>
<text x="1362" y="1954" font-family="'Liberation Sans', Arial, sans-serif" font-size="87" text-anchor="middle">Strain (%)</text>
<text transform="translate(88,855.4) rotate(-90)" x="0" y="0" font-family="'Liberation Sans', Arial, sans-serif" font-size="87" text-anchor="middle">Stress (MPa)</text>
<rect x="439" y="171" width="470" height="436.5" fill="#fff" stroke="#3c3c3c" stroke-width="3.6"/>
<line x1="441.5" y1="203.7" x2="562" y2="203.7" stroke="#000000" stroke-width="7.3" stroke-linecap="butt"/>
<text x="570.5" y="220.5" font-family="'Liberation Sans', Arial, sans-serif" font-size="51">EPDM</text>
<line x1="441.5" y1="265.4" x2="562" y2="265.4" stroke="#ff0000" stroke-width="7.3" stroke-linecap="butt"/>
<text x="570.5" y="282.2" font-family="'Liberation Sans', Arial, sans-serif" font-size="51">EPDM/B</text>
<line x1="441.5" y1="327.2" x2="562" y2="327.2" stroke="#00ff00" stroke-width="7.3" stroke-linecap="butt"/>
<text x="570.5" y="344.0" font-family="'Liberation Sans', Arial, sans-serif" font-size="51">EPDM/B/P</text>
<line x1="441.5" y1="388.9" x2="562" y2="388.9" stroke="#00ffff" stroke-width="7.3" stroke-linecap="butt"/>
<text x="570.5" y="405.8" font-family="'Liberation Sans', Arial, sans-serif" font-size="51">EPDM/GN</text>
<line x1="441.5" y1="450.7" x2="562" y2="450.7" stroke="#ff00ff" stroke-width="7.3" stroke-linecap="butt"/>
<text x="570.5" y="467.5" font-family="'Liberation Sans', Arial, sans-serif" font-size="51">EPDM/GN/P</text>
<line x1="441.5" y1="512.5" x2="562" y2="512.5" stroke="#ff8000" stroke-width="7.3" stroke-linecap="butt"/>
<text x="570.5" y="529.2" font-family="'Liberation Sans', Arial, sans-serif" font-size="51">EPDM/B/GN</text>
<line x1="441.5" y1="574.2" x2="562" y2="574.2" stroke="#0000ff" stroke-width="7.3" stroke-linecap="butt"/>
<text x="570.5" y="591.0" font-family="'Liberation Sans', Arial, sans-serif" font-size="51">EPDM/B/GN/P</text>
</svg>
</body></html>
